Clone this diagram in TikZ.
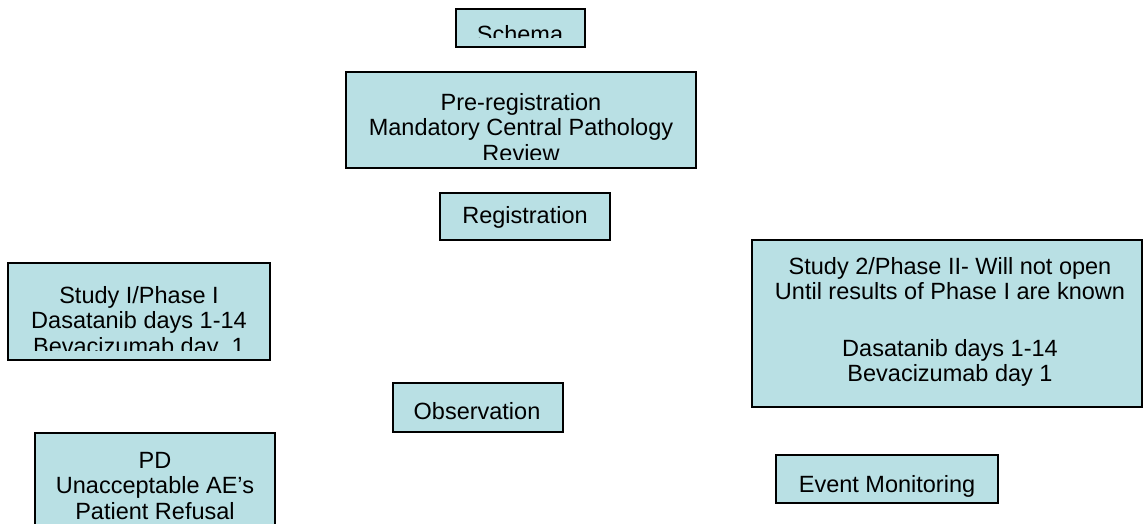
\documentclass[tikz,border=0pt]{standalone}
\usepackage{fontspec}
\setmainfont{Liberation Sans}
\definecolor{boxfill}{RGB}{185,224,228}
\tikzset{
  panel/.style={draw=black,fill=boxfill,line width=2.2pt},
  boxtext/.style={anchor=north,inner sep=0pt,align=center,
    font=\fontsize{23.5}{25.5}\selectfont}
}
\begin{document}
\begin{tikzpicture}[x=1pt,y=-1pt]
    \useasboundingbox (0,0) rectangle (1143,524);

    % boxes
    \draw[panel] (456,9) rectangle (585,47);
    \draw[panel] (346,72) rectangle (696,168);
    \draw[panel] (440,193) rectangle (610,240);
    \draw[panel] (8,263) rectangle (270,360);
    \draw[panel] (752,240) rectangle (1142,407);
    \draw[panel] (393,383) rectangle (563,432);
    \draw[panel] (35,433) rectangle (275,540);
    \draw[panel] (776,455) rectangle (998,503);

    % texts, cut off above the lower edge
    \begin{scope}
      \clip (456,9) rectangle (585,38);
      \node[boxtext] (schema) at (520,25) {Schema};
    \end{scope}
    \begin{scope}
      \clip (346,72) rectangle (696,159);
      \node[boxtext] (prereg) at (521,93) {Pre-registration\\Mandatory Central Pathology\\Review};
    \end{scope}
    \node[boxtext] (reg) at (525,206) {Registration};
    \begin{scope}
      \clip (8,263) rectangle (270,350);
      \node[boxtext] (study1) at (139,286) {Study I/Phase I\\Dasatanib days 1-14\\Bevacizumab day\ \ 1};
    \end{scope}
    \node[boxtext] (study2) at (950,257) {Study 2/Phase II- Will not open\\Until results of Phase I are known\\[31pt]Dasatanib days 1-14\\Bevacizumab day 1};
    \node[boxtext] (obs) at (477,402) {Observation};
    \begin{scope}
      \clip (35,433) rectangle (275,524);
      \node[boxtext] (stop) at (155,452) {PD\\Unacceptable AE’s\\Patient Refusal};
    \end{scope}
    \node[boxtext] (event) at (887,475) {Event Monitoring};
  \end{tikzpicture}
\end{document}
